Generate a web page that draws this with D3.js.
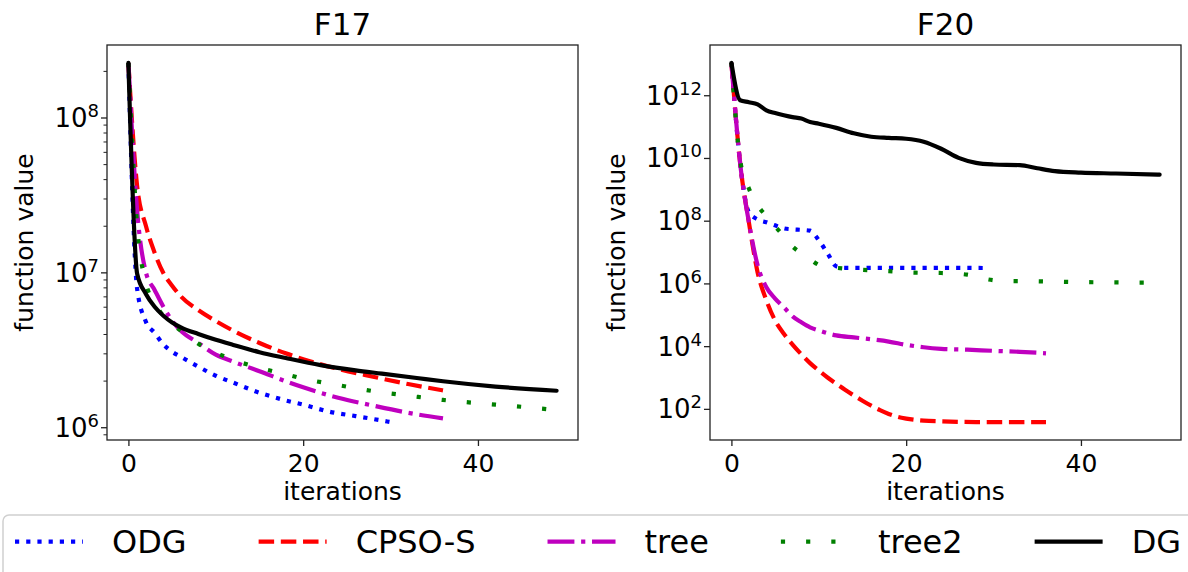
<!DOCTYPE html>
<html>
<head>
<meta charset="utf-8">
<script src="https://cdn.jsdelivr.net/npm/d3@7/dist/d3.min.js"></script>
<style>
  body { margin: 0; background: #fff; }
  svg { display: block; font-family: "DejaVu Sans", sans-serif; }
</style>
</head>
<body>
<svg id="chart" width="1188" height="572"></svg>
<script>
// values, [iteration, function value]
const f17ODG = [[0,2.25e8],[1,7.8e6],[2,4.8e6],[3,4.07e6],[4,3.43e6],[5,3.07e6],[6,2.85e6],[8,2.46e6],[10,2.15e6],[12,1.94e6],[15,1.67e6],[18,1.49e6],[20,1.40e6],[23,1.26e6],[26,1.18e6],[28,1.13e6],[30,1.08e6]];
const f17CPSO = [[0,2.25e8],[1,3.6e7],[2,2.0e7],[3,1.34e7],[4,9.9e6],[5,8.2e6],[6,7.0e6],[8,5.7e6],[10,4.85e6],[12,4.2e6],[15,3.5e6],[18,3.0e6],[20,2.75e6],[24,2.38e6],[28,2.12e6],[32,1.9e6],[36,1.73e6]];
const f17Tree = [[0,2.25e8],[1,2.5e7],[2,1.0e7],[3,7.7e6],[4,6.0e6],[5,4.87e6],[6,4.2e6],[8,3.5e6],[10,2.94e6],[12,2.65e6],[15,2.3e6],[18,1.98e6],[20,1.81e6],[24,1.55e6],[28,1.38e6],[32,1.24e6],[36,1.14e6]];
const f17Tree2 = [[0,2.25e8],[1,2.0e7],[2,8.55e6],[3,6.36e6],[4,5.24e6],[5,4.65e6],[6,4.2e6],[8,3.46e6],[10,3.03e6],[12,2.72e6],[15,2.42e6],[18,2.2e6],[20,2.06e6],[24,1.87e6],[28,1.71e6],[32,1.6e6],[36,1.5e6],[40,1.43e6],[44,1.37e6],[49,1.29e6]];
const f17DG = [[0,2.25e8],[1,9.8e6],[2,7.26e6],[3,6.0e6],[4,5.25e6],[5,4.75e6],[6,4.42e6],[8,4.0e6],[10,3.67e6],[12,3.4e6],[15,3.05e6],[18,2.8e6],[22,2.52e6],[26,2.33e6],[29,2.22e6],[33,2.08e6],[36,1.98e6],[42,1.83e6],[49,1.72e6]];

const f20ODG = [[0,1.07e13],[1,6.8e9],[2,1.85e8],[3,1.1e8],[4,8.9e7],[5,7.1e7],[6,5.7e7],[7,5.3e7],[8,5.1e7],[9,4.8e7],[10,2.4e7],[11,9.1e6],[12,3.5e6],[13,3.15e6],[16,3.15e6],[20,3.15e6],[24,3.15e6],[29,3.1e6]];
const f20CPSO = [[0,1.07e13],[1,6.8e9],[2,8.9e7],[3,2.24e6],[4,2.9e5],[5,6.6e4],[6,2.5e4],[7,1.12e4],[8,5500],[9,2880],[10,1660],[11,1000],[12,631],[13,407],[14,269],[15,182],[16,126],[17,91],[18,69],[19,56],[20,49],[22,42],[24,40],[28,38],[36,38]];
const f20Tree = [[0,1.07e13],[1,6.8e9],[2,8.9e7],[3,3.8e6],[4,7.6e5],[5,3.3e5],[6,1.74e5],[7,8.9e4],[8,5.75e4],[9,3.98e4],[10,3.16e4],[11,2.57e4],[12,2.2e4],[14,1.9e4],[16,1.65e4],[18,1.4e4],[20,1.1e4],[22,9200],[24,8200],[27,7700],[30,7080],[33,6600],[36,5900]];
const f20Tree2 = [[0,1.07e13],[1,8.5e9],[2,1.07e9],[3,3.1e8],[4,1.38e8],[5,6.6e7],[6,3.2e7],[7,1.5e7],[8,9.1e6],[9,5.9e6],[10,3.9e6],[11,3.4e6],[12,3.15e6],[13,2.95e6],[18,2.45e6],[21,2.2e6],[24,2.15e6],[27,1.9e6],[29,1.4e6],[31,1.2e6],[35,1.17e6],[40,1.1e6],[49,1.06e6]];
const f20DG = [[0,1.07e13],[1,6.9e11],[2,6.0e11],[3,5.1e11],[4,3.3e11],[5,2.7e11],[6,2.3e11],[7,2.0e11],[8,1.8e11],[9,1.4e11],[10,1.23e11],[12,9.1e10],[14,6.1e10],[16,4.75e10],[18,4.35e10],[20,4.1e10],[22,3.3e10],[24,1.97e10],[26,1.01e10],[28,7.0e9],[30,6.2e9],[33,5.9e9],[35,4.7e9],[37,3.8e9],[40,3.4e9],[44,3.2e9],[49,2.95e9]];

const seriesNames = ["ODG", "CPSO-S", "tree", "tree2", "DG"];
const titles = ["F17", "F20"];
const iterTicks = [0, 20, 40];
const f17Exps = [6, 7, 8];
const f20Exps = [2, 4, 6, 8, 10, 12];

// styles
const colors = ["#0000ff", "#ff0000", "#bf00bf", "#008000", "#000000"];
const dashes = ["4.2,7", "15.5,6.7", "26.9,6.7,4.2,6.7", "4.2,21", null];
const lw = 4.2;

const svg = d3.select("#chart");

const panels = [
  { title: titles[0], series: [f17ODG, f17CPSO, f17Tree, f17Tree2, f17DG], exps: f17Exps, minor: true,
    x0: 107, x1: 578, y0: 45, y1: 440, labelX: 33 },
  { title: titles[1], series: [f20ODG, f20CPSO, f20Tree, f20Tree2, f20DG], exps: f20Exps, minor: false,
    x0: 710, x1: 1181, y0: 45, y1: 440, labelX: 625 }
];

function drawPanel(p) {
  const all = p.series.flat();
  const maxIt = d3.max(all, d => d[0]);
  const xm = maxIt * 0.05;
  const x = d3.scaleLinear().domain([-xm, maxIt + xm]).range([p.x0, p.x1]);

  // log-space extent + 5% margins, like matplotlib
  const [lo, hi] = d3.extent(all, d => Math.log10(d[1]));
  const ym = (hi - lo) * 0.05;
  const y = d3.scaleLog().domain([Math.pow(10, lo - ym), Math.pow(10, hi + ym)]).range([p.y1, p.y0]);

  const g = svg.append("g");

  // lines
  const line = d3.line().x(d => x(d[0])).y(d => y(d[1])).curve(d3.curveMonotoneX);
  p.series.forEach((s, i) => {
    g.append("path")
      .attr("d", line(s))
      .attr("fill", "none")
      .attr("stroke", colors[i])
      .attr("stroke-width", lw)
      .attr("stroke-dasharray", dashes[i])
      .attr("stroke-linejoin", "round")
      .attr("stroke-linecap", dashes[i] ? "butt" : "round");
  });

  // frame
  g.append("rect")
    .attr("x", p.x0).attr("y", p.y0)
    .attr("width", p.x1 - p.x0).attr("height", p.y1 - p.y0)
    .attr("fill", "none").attr("stroke", "#222").attr("stroke-width", 1.3);

  // x axis
  const xAx = g.append("g")
    .attr("transform", `translate(0,${p.y1})`)
    .call(d3.axisBottom(x).tickValues(iterTicks).tickSize(6).tickPadding(8));
  xAx.select(".domain").remove();
  xAx.selectAll(".tick line").attr("stroke", "#222").attr("stroke-width", 1.3);
  xAx.selectAll("text").attr("font-size", 25).attr("font-family", "DejaVu Sans").attr("fill", "#000");

  // y axis major ticks
  const yAx = g.append("g")
    .attr("transform", `translate(${p.x0},0)`)
    .call(d3.axisLeft(y).tickValues(p.exps.map(e => Math.pow(10, e))).tickSize(6).tickFormat(""));
  yAx.select(".domain").remove();
  yAx.selectAll(".tick line").attr("stroke", "#222").attr("stroke-width", 1.3);

  // minor ticks
  if (p.minor) {
    const [dlo, dhi] = y.domain();
    const minors = [];
    for (let e = Math.floor(Math.log10(dlo)); e <= Math.ceil(Math.log10(dhi)); e++) {
      for (let k = 2; k <= 9; k++) {
        const v = k * Math.pow(10, e);
        if (v >= dlo && v <= dhi) minors.push(v);
      }
    }
    const yMin = g.append("g")
      .attr("transform", `translate(${p.x0},0)`)
      .call(d3.axisLeft(y).tickValues(minors).tickSize(3.5).tickFormat(""));
    yMin.select(".domain").remove();
    yMin.selectAll(".tick line").attr("stroke", "#222").attr("stroke-width", 1);
  }

  // y tick labels: 10 with superscript exponent
  p.exps.forEach(e => {
    const t = g.append("text")
      .attr("x", p.x0 - 8)
      .attr("y", y(Math.pow(10, e)) + 9.5)
      .attr("text-anchor", "end")
      .attr("font-size", 26)
      .attr("fill", "#000");
    t.append("tspan").text("10");
    t.append("tspan").attr("font-size", 18).attr("dy", -10).text(e);
  });

  // title and labels
  svg.append("text")
    .attr("x", (p.x0 + p.x1) / 2).attr("y", 35)
    .attr("text-anchor", "middle").attr("font-size", 31)
    .text(p.title);

  svg.append("text")
    .attr("x", (p.x0 + p.x1) / 2).attr("y", 500)
    .attr("text-anchor", "middle").attr("font-size", 25)
    .text("iterations");

  svg.append("text")
    .attr("transform", `translate(${p.labelX},${(p.y0 + p.y1) / 2}) rotate(-90)`)
    .attr("text-anchor", "middle").attr("font-size", 25)
    .text("function value");
}

panels.forEach(drawPanel);

// legend
const leg = svg.append("g");
leg.append("rect")
  .attr("x", 3).attr("y", 515).attr("width", 1210).attr("height", 90)
  .attr("rx", 6)
  .attr("fill", "#fff").attr("stroke", "#d0d0d0").attr("stroke-width", 1.5);

let cx = 15;
seriesNames.forEach((name, i) => {
  leg.append("line")
    .attr("x1", cx).attr("x2", cx + 68)
    .attr("y1", 541.7).attr("y2", 541.7)
    .attr("stroke", colors[i]).attr("stroke-width", lw)
    .attr("stroke-dasharray", dashes[i]);
  const t = leg.append("text")
    .attr("x", cx + 97).attr("y", 553.3)
    .attr("font-size", 32)
    .text(name);
  cx = cx + 97 + t.node().getComputedTextLength() + 72;
});
</script>
</body>
</html>
